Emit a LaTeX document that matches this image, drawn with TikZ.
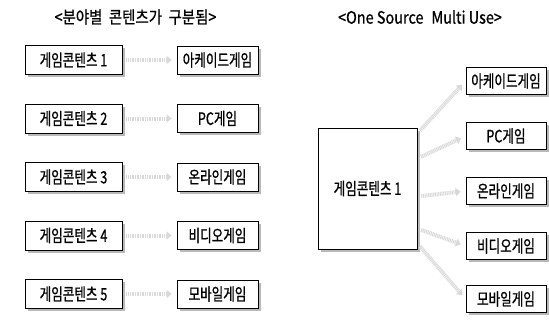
\documentclass[tikz,border=0pt]{standalone}
\usepackage{fontspec}
\newfontfamily\kr[FakeStretch=0.74,FakeBold=0.8]{Noto Sans CJK KR}
\newfontfamily\krt[FakeStretch=0.85,FakeBold=0.8]{Noto Sans CJK KR}
\usetikzlibrary{shadows,arrows.meta}
\tikzset{
  box/.style={draw=black, line width=0.8pt, fill=white, inner sep=0pt,
    drop shadow={shadow xshift=2.5pt, shadow yshift=-2.5pt, fill=gray!55, opacity=1},
    font=\kr\fontsize{17}{17}\selectfont},
  lbox/.style={box, minimum width=97pt, minimum height=29pt},
  gbox/.style={box, minimum width=81pt, minimum height=28pt},
  rbox/.style={box, minimum width=80pt, minimum height=27pt},
  title/.style={font=\krt\fontsize{17}{17}\selectfont, inner sep=0pt},
  conn/.style={draw=gray!30, line width=4pt, dash pattern=on 1pt off 0.7pt,
    -{Triangle[length=5pt,width=8pt]}, shorten <=4pt, shorten >=5pt},
}
\begin{document}
\begin{tikzpicture}[x=1pt,y=-1pt]
\path[use as bounding box] (0,0) rectangle (549,325);
\node[title] (t1) at (135.5,17) {<분야별\ \ 콘텐츠가\ \ 구분됨>};
\node[title] (t2) at (420,17) {<One Source\hspace{8pt}Multi Use>};
% left part
\node[lbox] (c1) at (73.5,60) {게임콘텐츠 1};
\node[lbox] (c2) at (73.5,118.5) {게임콘텐츠 2};
\node[lbox] (c3) at (73.5,177) {게임콘텐츠 3};
\node[lbox] (c4) at (73.5,235.5) {게임콘텐츠 4};
\node[lbox] (c5) at (73.5,294) {게임콘텐츠 5};
\node[gbox] (g1) at (217.5,60) {아케이드게임};
\node[gbox] (g2) at (217.5,118.5) {PC게임};
\node[gbox] (g3) at (217.5,177) {온라인게임};
\node[gbox] (g4) at (217.5,235.5) {비디오게임};
\node[gbox] (g5) at (217.5,294) {모바일게임};
\foreach \i in {1,...,5} \draw[conn] (c\i) -- (g\i);
% right part
\node[box, minimum width=99pt, minimum height=121pt] (big) at (367.5,188.5) {게임콘텐츠 1};
\node[rbox] (r1) at (506,81) {아케이드게임};
\node[rbox] (r2) at (506,136) {PC게임};
\node[rbox] (r3) at (506,191) {온라인게임};
\node[rbox] (r4) at (506,246) {비디오게임};
\node[rbox] (r5) at (506,299) {모바일게임};
\draw[conn] ([yshift=55pt]big.east) -- (r1.west);
\draw[conn] ([yshift=30pt]big.east) -- (r2.west);
\draw[conn] ([yshift=-8pt]big.east) -- (r3.west);
\draw[conn] ([yshift=-40pt]big.east) -- (r4.west);
\draw[conn] ([yshift=-55pt]big.east) -- (r5.west);
\end{tikzpicture}
\end{document}
